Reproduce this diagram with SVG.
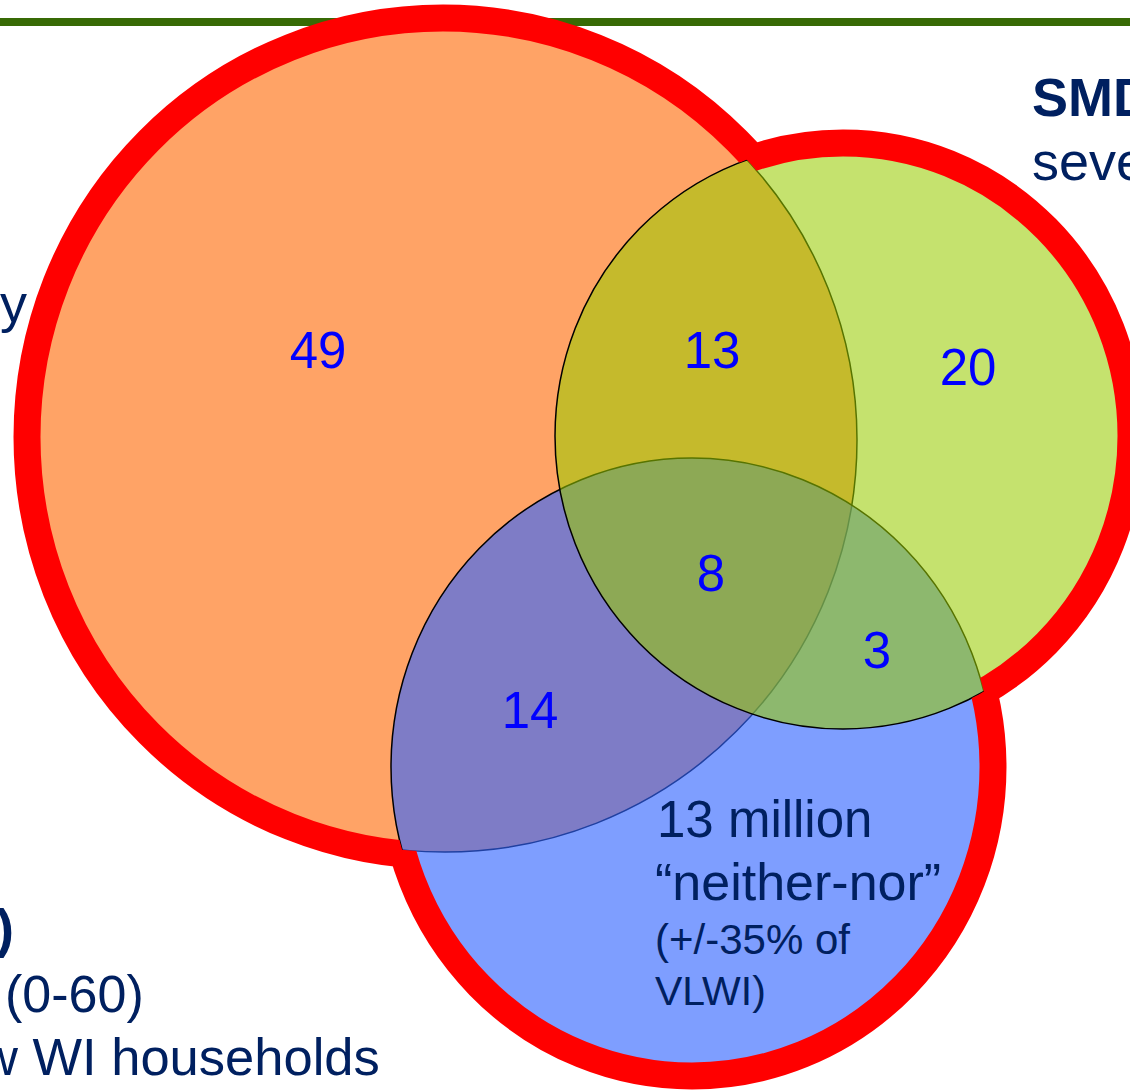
<svg xmlns="http://www.w3.org/2000/svg" width="1130" height="1090" viewBox="0 0 1130 1090">
<defs>
<style>
.num{font-family:"Liberation Sans",Arial,sans-serif;font-size:51px;fill:#0000FF;text-anchor:middle}
.txt{font-family:"Liberation Sans",Arial,sans-serif;fill:#002060}
.ring{fill:none;stroke:#FF0000;stroke-width:27}
.edge{stroke:#000000;stroke-width:1.5}
</style>
<mask id="mO" maskUnits="userSpaceOnUse" x="0" y="0" width="1130" height="1090">
<rect width="1130" height="1090" fill="#fff"/>
<ellipse cx="843" cy="436" rx="288" ry="293" fill="#000"/>
<ellipse cx="692" cy="767" rx="301" ry="309" fill="#000"/>
</mask>
<mask id="mG" maskUnits="userSpaceOnUse" x="0" y="0" width="1130" height="1090">
<rect width="1130" height="1090" fill="#fff"/>
<circle cx="445" cy="440" r="412" fill="#000"/>
<ellipse cx="692" cy="767" rx="301" ry="309" fill="#000"/>
</mask>
<mask id="mB" maskUnits="userSpaceOnUse" x="0" y="0" width="1130" height="1090">
<rect width="1130" height="1090" fill="#fff"/>
<circle cx="445" cy="440" r="412" fill="#000"/>
<ellipse cx="843" cy="436" rx="288" ry="293" fill="#000"/>
</mask>
</defs>
<rect width="1130" height="1090" fill="#ffffff"/>
<rect x="0" y="18" width="1130" height="8" fill="#386A05"/>
<g id="node-orange">
<circle cx="445" cy="440" r="412" fill="#FFA366" class="edge"/>
</g>
<g id="node-blue">
<ellipse cx="692" cy="767" rx="301" ry="309" fill="#3366FF" fill-opacity="0.63" class="edge"/>
</g>
<g id="node-green">
<ellipse cx="843" cy="436" rx="288" ry="293" fill="#99CC00" fill-opacity="0.57" class="edge"/>
</g>
<g id="outline">
<ellipse cx="443" cy="437" rx="416" ry="419" class="ring" mask="url(#mO)"/>
<ellipse cx="843" cy="436" rx="288" ry="293" class="ring" mask="url(#mG)"/>
<ellipse cx="692" cy="767" rx="301" ry="309" class="ring" mask="url(#mB)"/>
</g>
<g id="connectors"></g>
<g id="labels">
<text class="num" x="318" y="368">49</text>
<text class="num" x="712" y="368">13</text>
<text class="num" x="968" y="385">20</text>
<text class="num" x="711" y="591">8</text>
<text class="num" x="877" y="668">3</text>
<text class="num" x="530" y="728">14</text>
<text class="txt" x="657" y="837" font-size="51">13 million</text>
<text class="txt" x="655" y="900" font-size="52">“neither-nor”</text>
<text class="txt" x="655" y="954" font-size="42">(+/-35% of</text>
<text class="txt" x="655" y="1005" font-size="41">VLWI)</text>
</g>
<g id="side-text">
<text class="txt" x="1032" y="116" font-size="54" font-weight="bold">SMD</text>
<text class="txt" x="1032" y="180" font-size="54">seve</text>
<text class="txt" x="27" y="322" font-size="54" text-anchor="end">y</text>
<text class="txt" x="14" y="947" font-size="54" font-weight="bold" text-anchor="end">)</text>
<text class="txt" x="5" y="1012" font-size="52">(0-60)</text>
<text class="txt" x="-20" y="1075" font-size="52.5">w WI households</text>
</g>
</svg>
